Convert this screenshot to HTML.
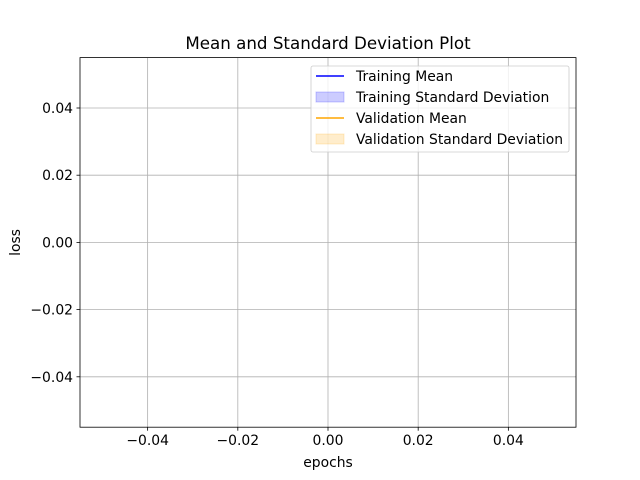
<!DOCTYPE html>
<html><head><meta charset="utf-8"><style>body{margin:0;background:#fff}svg{display:block;font-family:"DejaVu Sans","Liberation Sans",sans-serif}</style></head>
<body>
<svg id="chart" width="640" height="480" xmlns="http://www.w3.org/2000/svg">
<rect width="640" height="480" fill="#fff"/>
<g id="grid"></g>
<g id="marks"></g>
<rect x="80" y="57.6" width="496" height="369.6" fill="none" stroke="#000" stroke-width="0.8"/>
<g id="ticks"></g>
<text x="328" y="49" font-size="16.7" text-anchor="middle">Mean and Standard Deviation Plot</text>
<text x="328" y="467" font-size="13.9" text-anchor="middle">epochs</text>
<text transform="translate(20,242.4) rotate(-90)" font-size="13.9" text-anchor="middle">loss</text>
<g>
<rect x="311" y="66" width="258" height="86" rx="2" fill="#fff" fill-opacity="0.8" stroke="#ccc" stroke-width="0.8"/>
<g><line x1="316" y1="76" x2="344" y2="76" stroke="blue" stroke-width="1.5"/><text x="356" y="81" font-size="13.9">Training Mean</text></g>
<g><rect x="316" y="92" width="28" height="10" fill="blue" fill-opacity="0.2" stroke="blue" stroke-opacity="0.2"/><text x="356" y="102" font-size="13.9">Training Standard Deviation</text></g>
<g><line x1="316" y1="118" x2="344" y2="118" stroke="orange" stroke-width="1.5"/><text x="356" y="123" font-size="13.9">Validation Mean</text></g>
<g><rect x="316" y="134" width="28" height="10" fill="orange" fill-opacity="0.2" stroke="orange" stroke-opacity="0.2"/><text x="356" y="144" font-size="13.9">Validation Standard Deviation</text></g>
</g>
</svg>
<script>
const epochs = [];
const trainMean = [];
const trainStd = [];
const valMean = [];
const valStd = [];
const xTicks = [-0.04, -0.02, 0.00, 0.02, 0.04];
const yTicks = [-0.04, -0.02, 0.00, 0.02, 0.04];
const xMin=-0.055,xMax=0.055,yMin=-0.055,yMax=0.055;
const L=80,R=576,T=57.6,B=427.2;
const sx=v=>L+(v-xMin)/(xMax-xMin)*(R-L);
const sy=v=>B-(v-yMin)/(yMax-yMin)*(B-T);
const NS="http://www.w3.org/2000/svg";
const grid=document.getElementById('grid'),ticks=document.getElementById('ticks'),marks=document.getElementById('marks');
function mk(tag,a,p){const e=document.createElementNS(NS,tag);for(const k in a)e.setAttribute(k,a[k]);p.appendChild(e);return e;}
const fmt=v=>(v<0?'\u22120':'0')+'.'+Math.abs(v).toFixed(2).split('.')[1];
xTicks.forEach(v=>{const x=sx(v);
const g=mk('line',{x1:x,x2:x,y1:T,y2:B,stroke:'#b0b0b0','stroke-width':0.8},grid);


mk('line',{x1:x,x2:x,y1:B,y2:B+3.5,stroke:'#000','stroke-width':0.8},ticks);
const t=mk('text',{x:x,y:B+18,'font-size':13.9,'text-anchor':'middle'},ticks);t.textContent=fmt(v);

});
yTicks.forEach(v=>{const y=sy(v);
const g=mk('line',{x1:L,x2:R,y1:y,y2:y,stroke:'#b0b0b0','stroke-width':0.8},grid);


mk('line',{x1:L-3.5,x2:L,y1:y,y2:y,stroke:'#000','stroke-width':0.8},ticks);
const t=mk('text',{x:L-7,y:y+5,'font-size':13.9,'text-anchor':'end'},ticks);t.textContent=fmt(v);

});
function band(m,s,c,name){if(!m.length)return;let up=m.map((v,i)=>sx(epochs[i])+','+sy(v+s[i]));let dn=m.map((v,i)=>sx(epochs[i])+','+sy(v-s[i])).reverse();
const p=mk('polygon',{points:up.concat(dn).join(' '),fill:c,'fill-opacity':0.2},marks);

}
function line(m,c,name){if(!m.length)return;
const p=mk('polyline',{points:m.map((v,i)=>sx(epochs[i])+','+sy(v)).join(' '),fill:'none',stroke:c,'stroke-width':1.5},marks);

}
band(trainMean,trainStd,'blue','training-std-band');band(valMean,valStd,'orange','validation-std-band');
line(trainMean,'blue','training-mean-line');line(valMean,'orange','validation-mean-line');
</script>
</body></html>
